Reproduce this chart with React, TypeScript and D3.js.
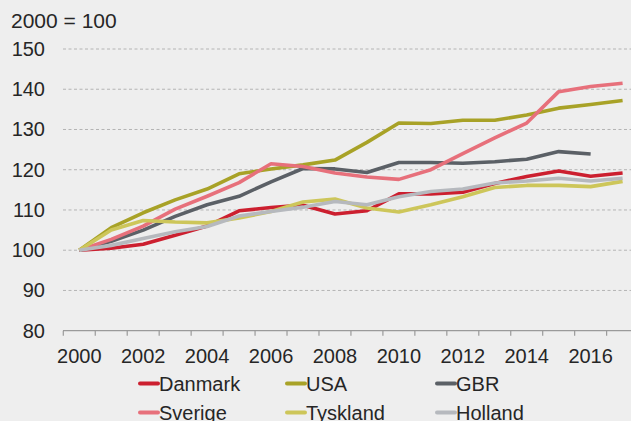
import React, { useEffect, useRef } from "react";
import * as d3 from "d3";

const WIDTH = 631;
const HEIGHT = 421;

const years = d3.range(2000, 2018);
const yTicks = [80, 90, 100, 110, 120, 130, 140, 150];

const danmark = [100, 100.5, 101.5, 103.7, 106, 109.8, 110.6, 111.2, 109, 109.8, 114, 114, 114.4, 116.6, 118.3, 119.7, 118.4, 119.2];
const usa = [100, 105.6, 109.3, 112.5, 115.2, 119, 120.2, 121.2, 122.4, 126.8, 131.6, 131.5, 132.3, 132.3, 133.6, 135.3, 136.2, 137.2];
const gbr = [100, 102.2, 105, 108.4, 111.3, 113.4, 117, 120.3, 120.2, 119.3, 121.8, 121.8, 121.6, 122, 122.6, 124.5, 123.9, null];
const sverige = [100, 102.7, 106, 110.2, 113.4, 116.8, 121.5, 120.8, 119.2, 118.2, 117.6, 120, 124, 127.9, 131.6, 139.4, 140.7, 141.5];
const tyskland = [100, 105, 107.4, 107, 106.8, 108, 109.6, 112, 112.7, 110.5, 109.5, 111.3, 113.3, 115.6, 116.1, 116.1, 115.8, 117.1];
const holland = [100, 101.2, 102.9, 104.6, 105.9, 108.5, 109.6, 110.7, 112.1, 111.3, 113.3, 114.6, 115.2, 116.7, 117.2, 117.9, 117.2, 117.9];

const series = [
  { name: "Danmark", values: danmark, color: "#cc1f2f" },
  { name: "USA", values: usa, color: "#a8a227" },
  { name: "GBR", values: gbr, color: "#5b6066" },
  { name: "Sverige", values: sverige, color: "#e7707b" },
  { name: "Tyskland", values: tyskland, color: "#cdc65a" },
  { name: "Holland", values: holland, color: "#b6b9be" },
];

const FONT = "'Liberation Sans', Arial, sans-serif";

export default function App() {
  const ref = useRef<SVGSVGElement>(null);

  useEffect(() => {
    const container = ref.current;
    if (!container) return;

    const svg = d3.select(container);
    svg.selectAll("*").remove();

    svg
      .append("rect")
      .attr("width", WIDTH)
      .attr("height", HEIGHT)
      .attr("fill", "#eeeeee");

    // scales - category axis, points at band centres
    const x = d3
      .scaleBand<number>()
      .domain(years)
      .range([63.3, 63.3 + 18 * 31.96])
      .padding(0);
    const cx = (yr: number) => (x(yr) as number) + x.bandwidth() / 2;

    const y = d3.scaleLinear().domain([80, 150]).range([330.7, 49]);

    // grid
    svg
      .append("g")
      .selectAll("line")
      .data(yTicks.filter((t) => t > 80))
      .enter()
      .append("line")
      .attr("x1", 63)
      .attr("x2", WIDTH)
      .attr("y1", (d) => y(d))
      .attr("y2", (d) => y(d))
      .attr("stroke", "#b4b4b4")
      .attr("stroke-width", 1)
      .attr("stroke-dasharray", "3,2.5");

    // y labels
    svg
      .append("g")
      .selectAll("text")
      .data(yTicks)
      .enter()
      .append("text")
      .attr("x", 45)
      .attr("y", (d) => y(d) + 7)
      .attr("text-anchor", "end")
      .attr("font-family", FONT)
      .attr("font-size", 20)
      .attr("fill", "#262626")
      .text((d) => d);

    svg
      .append("text")
      .attr("x", 11)
      .attr("y", 28.3)
      .attr("font-family", FONT)
      .attr("font-size", 21)
      .attr("fill", "#262626")
      .text("2000 = 100");

    // x axis
    const axisY = y(80);
    svg
      .append("line")
      .attr("x1", 63)
      .attr("x2", WIDTH)
      .attr("y1", axisY)
      .attr("y2", axisY)
      .attr("stroke", "#9a9a9a")
      .attr("stroke-width", 1.2);

    svg
      .append("g")
      .selectAll("line")
      .data(years)
      .enter()
      .append("line")
      .attr("x1", (d) => x(d) as number)
      .attr("x2", (d) => x(d) as number)
      .attr("y1", axisY)
      .attr("y2", axisY + 5)
      .attr("stroke", "#9a9a9a")
      .attr("stroke-width", 1.2);

    svg
      .append("g")
      .selectAll("text")
      .data(years.filter((d) => d % 2 === 0))
      .enter()
      .append("text")
      .attr("x", (d) => cx(d))
      .attr("y", 362.7)
      .attr("text-anchor", "middle")
      .attr("font-family", FONT)
      .attr("font-size", 20)
      .attr("fill", "#262626")
      .text((d) => d);

    // lines
    const line = d3
      .line<number | null>()
      .defined((d) => d !== null)
      .x((_, i) => cx(years[i]))
      .y((d) => y(d as number));

    svg
      .append("g")
      .selectAll("path")
      .data(series)
      .enter()
      .append("path")
      .attr("d", (s) => line(s.values))
      .attr("fill", "none")
      .attr("stroke", (s) => s.color)
      .attr("stroke-width", 3.6)
      .attr("stroke-linejoin", "round");

    // legend (second row is clipped by the bottom edge, as in the original)
    const colX = [140, 287, 437];
    const rowY = [383.5, 412.5];
    const legend = svg
      .append("g")
      .selectAll("g")
      .data(series)
      .enter()
      .append("g")
      .attr("transform", (_, i) => `translate(${colX[i % 3]}, ${rowY[Math.floor(i / 3)]})`);

    legend
      .append("line")
      .attr("x1", 0)
      .attr("x2", 18)
      .attr("stroke", (s) => s.color)
      .attr("stroke-width", 4)
      .attr("stroke-linecap", "round");

    legend
      .append("text")
      .attr("x", 19)
      .attr("y", 7)
      .attr("font-family", FONT)
      .attr("font-size", 20)
      .attr("fill", "#262626")
      .text((s) => s.name);
  }, [ref]);

  return (
    <svg
      ref={ref}
      width={WIDTH}
      height={HEIGHT}
      style={{ position: "absolute", left: 0, top: 0, display: "block" }}
    />
  );
}
